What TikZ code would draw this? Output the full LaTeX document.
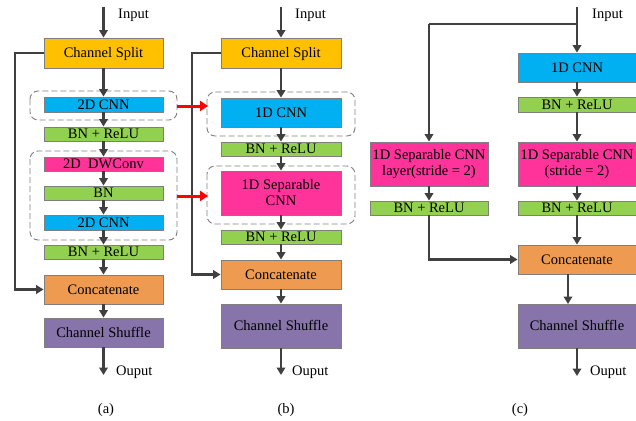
\documentclass[tikz,border=0pt]{standalone}
\usepackage{fontspec}
\setmainfont{Liberation Serif}
\usetikzlibrary{arrows.meta}
\definecolor{csplit}{HTML}{FFC000}
\definecolor{ccnn}{HTML}{00B0F0}
\definecolor{cbn}{HTML}{92D050}
\definecolor{cpink}{HTML}{FF3399}
\definecolor{ccat}{HTML}{EE9A50}
\definecolor{cshuf}{HTML}{8674AA}
\definecolor{cline}{HTML}{404040}
\definecolor{cborder}{HTML}{7F7F7F}
\tikzset{
  blkbase/.style={draw=cborder, line width=0.8pt, inner sep=0pt, align=center,
    font=\fontsize{14.5}{16}\selectfont},
  blk/.style={blkbase, text height=9.6pt, text depth=0pt},
  conn/.style={draw=cline, line width=2.5pt, -{Triangle[length=7.5pt,width=8.5pt]}},
  plainline/.style={draw=cline, line width=2.5pt},
  redarrow/.style={draw=red, line width=3pt, -{Triangle[length=8pt,width=10pt]}},
  dbox/.style={draw=cborder, line width=0.9pt, dash pattern=on 6pt off 3pt, rounded corners=8pt},
  lbl/.style={font=\fontsize{14.5}{16}\selectfont, inner sep=0pt, anchor=west},
  captxt/.style={font=\fontsize{14.5}{16}\selectfont, inner sep=0pt}
}
\begin{document}
\begin{tikzpicture}[x=1pt,y=-1pt]
\useasboundingbox (0,0) rectangle (636,420);
% ---------- (a)
\draw[dbox] (30,91) rectangle (177,120);
\draw[dbox] (30,151) rectangle (177,240);
\node[blk, fill=csplit, minimum width=119pt, minimum height=30pt] (splitA) at (103.5,53) {Channel Split};
\node[blk, fill=ccnn, minimum width=119pt, minimum height=15pt] (cnnA1) at (103.5,104.5) {2D CNN};
\node[blk, fill=cbn, minimum width=119pt, minimum height=14pt] (bnA1) at (103.5,134) {BN + ReLU};
\node[blk, fill=cpink, minimum width=119pt, minimum height=14pt] (dwA) at (103.5,164) {2D~~DWConv};
\node[blk, fill=cbn, minimum width=119pt, minimum height=14pt] (bnA) at (103.5,193) {BN};
\node[blk, fill=ccnn, minimum width=119pt, minimum height=15pt] (cnnA2) at (103.5,222.5) {2D CNN};
\node[blk, fill=cbn, minimum width=119pt, minimum height=14pt] (bnA2) at (103.5,252) {BN + ReLU};
\node[blk, fill=ccat, minimum width=119pt, minimum height=29pt] (catA) at (103.5,289.5) {Concatenate};
\node[blk, fill=cshuf, minimum width=119pt, minimum height=29pt] (shufA) at (103.5,332.5) {Channel Shuffle};
\coordinate (inA) at (103.5,7);
\coordinate (outA) at (103.5,375);
\coordinate (skA) at (15,53);
\node[lbl] (tinA) at (118,15) {Input};
\node[lbl] (toutA) at (116,372) {Ouput};
\node[captxt] (capA) at (106,410) {(a)};
\draw[conn] (inA) -- (splitA);
\draw[conn] (splitA) -- (cnnA1);
\draw[conn] (cnnA1) -- (bnA1);
\draw[conn] (bnA1) -- (dwA);
\draw[conn] (dwA) -- (bnA);
\draw[conn] (bnA) -- (cnnA2);
\draw[conn] (cnnA2) -- (bnA2);
\draw[conn] (bnA2) -- (catA);
\draw[conn] (catA) -- (shufA);
\draw[conn] (shufA) -- (outA);
\draw[conn] (splitA.west) -- (skA) |- (catA.west);
% ---------- (b)
\draw[dbox] (207,92) rectangle (355,136);
\draw[dbox] (207,166) rectangle (355,224);
\node[blk, fill=csplit, minimum width=120pt, minimum height=30pt] (splitB) at (281,53) {Channel Split};
\node[blk, fill=ccnn, minimum width=120pt, minimum height=29pt] (cnnB) at (281,112.5) {1D CNN};
\node[blk, fill=cbn, minimum width=120pt, minimum height=14pt] (bnB1) at (281,149) {BN + ReLU};
\node[blkbase, fill=cpink, minimum width=120pt, minimum height=44pt] (sepB) at (281,193) {1D Separable\\CNN};
\node[blk, fill=cbn, minimum width=120pt, minimum height=14pt] (bnB2) at (281,237) {BN + ReLU};
\node[blk, fill=ccat, minimum width=120pt, minimum height=29pt] (catB) at (281,274.5) {Concatenate};
\node[blk, fill=cshuf, minimum width=120pt, minimum height=44pt] (shufB) at (281,326) {Channel Shuffle};
\coordinate (inB) at (281,7);
\coordinate (outB) at (281,375);
\coordinate (skB) at (192,53);
\node[lbl] (tinB) at (295,15) {Input};
\node[lbl] (toutB) at (292,372) {Ouput};
\node[captxt] (capB) at (286,410) {(b)};
\draw[conn] (inB) -- (splitB);
\draw[conn] (splitB) -- (cnnB);
\draw[conn] (cnnB) -- (bnB1);
\draw[conn] (bnB1) -- (sepB);
\draw[conn] (sepB) -- (bnB2);
\draw[conn] (bnB2) -- (catB);
\draw[conn] (catB) -- (shufB);
\draw[conn] (shufB) -- (outB);
\draw[conn] (splitB.west) -- (skB) |- (catB.west);
% red arrows
\coordinate (r1s) at (177,106);
\coordinate (r1e) at (208,106);
\coordinate (r2s) at (177,196);
\coordinate (r2e) at (208,196);
\draw[redarrow] (r1s) -- (r1e);
\draw[redarrow] (r2s) -- (r2e);
% ---------- (c)
\node[blk, fill=ccnn, minimum width=118pt, minimum height=29pt] (cnnC) at (577,67.5) {1D CNN};
\node[blk, fill=cbn, minimum width=118pt, minimum height=15pt] (bnC1) at (577,104.5) {BN + ReLU};
\node[blkbase, fill=cpink, minimum width=118pt, minimum height=44pt] (sepC) at (577,164) {1D Separable CNN\\(stride = 2)};
\node[blk, fill=cbn, minimum width=118pt, minimum height=14pt] (bnC2) at (577,208) {BN + ReLU};
\node[blk, fill=ccat, minimum width=118pt, minimum height=29pt] (catC) at (577,259.5) {Concatenate};
\node[blk, fill=cshuf, minimum width=118pt, minimum height=44pt] (shufC) at (577,326) {Channel Shuffle};
\node[blkbase, fill=cpink, minimum width=118pt, minimum height=44pt] (sepL) at (429,164) {1D Separable CNN\\layer(stride = 2)};
\node[blk, fill=cbn, minimum width=118pt, minimum height=14pt] (bnL) at (429,208) {BN + ReLU};
\coordinate (inC) at (577,7);
\coordinate (brC) at (577,24);
\coordinate (brL) at (429,24);
\coordinate (outC) at (577,376);
\coordinate (csA) at (568,274);
\coordinate (csB) at (568,304);
\node[lbl] (tinC) at (592,15) {Input};
\node[lbl] (toutC) at (590,372) {Ouput};
\node[captxt] (capC) at (520,410) {(c)};
\draw[conn] (inC) -- (cnnC);
\draw[plainline] (brC) -- (brL);
\draw[conn] (brL) -- (sepL);
\draw[conn] (cnnC) -- (bnC1);
\draw[conn] (bnC1) -- (sepC);
\draw[conn] (sepC) -- (bnC2);
\draw[conn] (bnC2) -- (catC);
\draw[conn] (sepL) -- (bnL);
\draw[conn] (bnL) |- (catC.west);
\draw[conn] (csA) -- (csB);
\draw[conn] (shufC) -- (outC);
\end{tikzpicture}
\end{document}
